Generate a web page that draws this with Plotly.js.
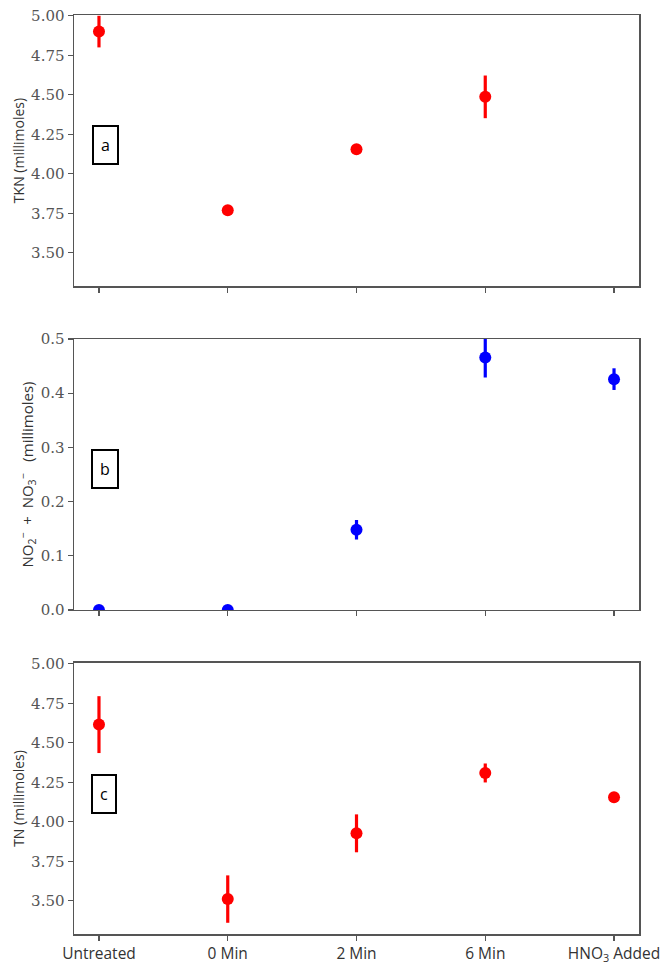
<!DOCTYPE html>
<html>
<head>
<meta charset="utf-8">
<script src="https://cdn.plot.ly/plotly-3.0.1.min.js"></script>
<style>html,body{margin:0;padding:0;background:#fff;}#chart{width:666px;height:964px;}</style>
</head>
<body>
<div id="chart"></div>
<script>
const categories = [0, 1, 2, 3, 4];
const tickLabels = ["Untreated", "0 Min", "2 Min", "6 Min", "HNO<sub>3</sub> Added"];

const tknX = [0, 1, 2, 3];
const tknValues = [4.90, 3.77, 4.156, 4.487];
const tknErrors = [0.10, 0.0, 0.0, 0.135];

const noxX = [0, 1, 2, 3, 4];
const noxValues = [0.0, 0.0, 0.148, 0.466, 0.426];
const noxErrors = [0.0, 0.0, 0.018, 0.037, 0.02];

const tnX = [0, 1, 2, 3, 4];
const tnValues = [4.615, 3.511, 3.927, 4.309, 4.155];
const tnErrors = [0.18, 0.15, 0.12, 0.06, 0.0];

const tknTicks = [3.50, 3.75, 4.00, 4.25, 4.50, 4.75, 5.00];
const tknTickText = ["3.50", "3.75", "4.00", "4.25", "4.50", "4.75", "5.00"];
const noxTicks = [0.0, 0.1, 0.2, 0.3, 0.4, 0.5];
const noxTickText = ["0.0", "0.1", "0.2", "0.3", "0.4", "0.5"];

function trace(x, y, e, color, xa, ya) {
  return {
    x: x, y: y, xaxis: xa, yaxis: ya, type: 'scatter', mode: 'markers',
    marker: {color: color, size: 12},
    error_y: {type: 'data', array: e, visible: true, color: color, thickness: 3.2, width: 0},
    showlegend: false, hoverinfo: 'skip'
  };
}

const data = [
  trace(tknX, tknValues, tknErrors, '#ff0000', 'x', 'y'),
  trace(noxX, noxValues, noxErrors, '#0000ff', 'x2', 'y2'),
  trace(tnX, tnValues, tnErrors, '#ff0000', 'x3', 'y3')
];

const serif = "DejaVu Serif";
const sans = "Open Sans";

function xaxis(anchor, showLabels) {
  return {
    anchor: anchor, range: [-0.194, 4.194],
    tickmode: 'array', tickvals: categories, ticktext: tickLabels,
    showticklabels: showLabels, ticks: 'outside', ticklen: 5, tickwidth: 1.2, tickcolor: '#555',
    showline: true, mirror: true, linecolor: '#555', linewidth: 1.5,
    showgrid: false, zeroline: false,
    tickfont: {family: sans, size: 15.5, color: '#333'}
  };
}
function yaxis(anchor, domain, range, ticks, text, title, tsize) {
  return {
    anchor: anchor, domain: domain, range: range,
    tickmode: 'array', tickvals: ticks, ticktext: text,
    ticks: 'outside', ticklen: 5, tickwidth: 1.2, tickcolor: '#555',
    showline: true, mirror: true, linecolor: '#555', linewidth: 1.5,
    showgrid: false, zeroline: false,
    tickfont: {family: serif, size: 15, color: '#555'},
    title: {text: title, font: {family: sans, size: tsize, color: '#333'}, standoff: 3}
  };
}

function box(text, xa, ya, x, y) {
  return {text: text, xref: xa, yref: ya, x: x, y: y, showarrow: false,
    font: {family: sans, size: 16, color: '#000'}, bordercolor: '#000', borderwidth: 2,
    borderpad: 7, bgcolor: '#fff'};
}

const layout = {
  width: 666, height: 964,
  margin: {l: 74, r: 27, t: 15, b: 30},
  font: {family: sans},
  paper_bgcolor: '#fff', plot_bgcolor: '#fff',
  xaxis: xaxis('y', false),
  xaxis2: xaxis('y2', false),
  xaxis3: xaxis('y3', true),
  yaxis: yaxis('x', [0.7051, 1], [3.29, 5.005], tknTicks, tknTickText, 'TKN (millimoles)', 14),
  yaxis2: yaxis('x2', [0.3526, 0.6474], [0, 0.5], noxTicks, noxTickText, 'NO<sub>2</sub><sup>−</sup>  +  NO<sub>3</sub><sup>−</sup>   (millimoles)', 15),
  yaxis3: yaxis('x3', [0, 0.2949], [3.29, 5.005], tknTicks, tknTickText, 'TN (millimoles)', 14),
  annotations: [
    box('a', 'x', 'y', 0.047, 4.18),
    box('b', 'x2', 'y2', 0.047, 0.26),
    box('c', 'x3', 'y3', 0.04, 4.176)
  ]
};

Plotly.newPlot('chart', data, layout, {displayModeBar: false, staticPlot: true});
</script>
</body>
</html>
